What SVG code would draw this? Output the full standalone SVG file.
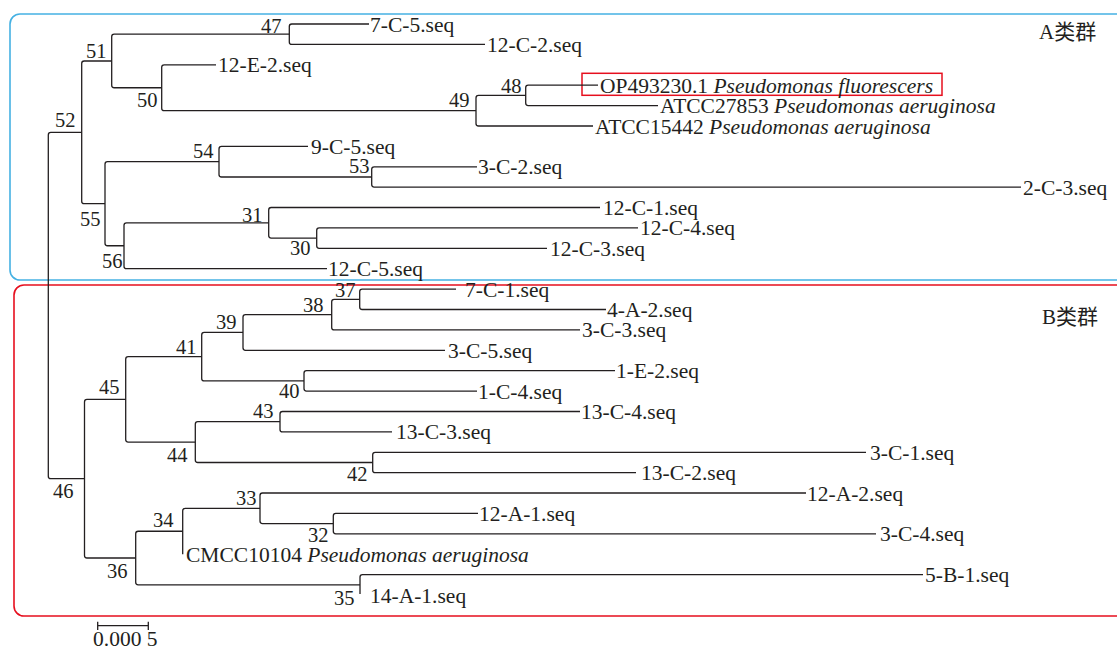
<svg xmlns="http://www.w3.org/2000/svg" width="1117" height="649" viewBox="0 0 1117 649">
<style>
.br{fill:none;stroke:#231f20;stroke-width:1.3;stroke-linejoin:round}
text{font-family:"Liberation Serif","Times New Roman",serif;font-size:21.5px;fill:#231f20}
.nl{font-size:20.5px}
.it{font-style:italic}
.cn{font-family:"Liberation Serif","Noto Sans CJK SC",serif;font-size:21px}
</style>
<rect x="0" y="0" width="1117" height="649" fill="#ffffff"/>
<g id="clusters">
<rect id="cluster-A" x="10" y="14" width="1130" height="266" rx="10" fill="none" stroke="#45b1e3" stroke-width="1.6"/>
<rect id="cluster-B" x="14" y="285" width="1130" height="331" rx="10" fill="none" stroke="#e60f1e" stroke-width="1.6"/>
<rect id="highlight" x="582" y="73.3" width="360" height="22" fill="none" stroke="#e60f1e" stroke-width="1.5"/>
</g>
<g id="connectors">
<path class="br" d="M81.7 132.4 H50.8 Q48.3 132.4 48.3 134.9 V476.2 Q48.3 478.7 50.8 478.7 H84.5"/>
<path class="br" d="M111.7 61 H84.2 Q81.7 61 81.7 63.5 V201.2 Q81.7 203.7 84.2 203.7 H105"/>
<path class="br" d="M289.3 34.2 H114.2 Q111.7 34.2 111.7 36.7 V85.25 Q111.7 87.75 114.2 87.75 H161.7"/>
<path class="br" d="M369 24 H291.8 Q289.3 24 289.3 26.5 V41.9 Q289.3 44.4 291.8 44.4 H485"/>
<path class="br" d="M216 64.8 H164.2 Q161.7 64.8 161.7 67.3 V108.2 Q161.7 110.7 164.2 110.7 H476"/>
<path class="br" d="M525.7 95.4 H478.5 Q476 95.4 476 97.9 V123.5 Q476 126 478.5 126 H593"/>
<path class="br" d="M598 85.2 H528.2 Q525.7 85.2 525.7 87.7 V103.1 Q525.7 105.6 528.2 105.6 H658"/>
<path class="br" d="M219 161.7 H107.5 Q105 161.7 105 164.2 V243.25 Q105 245.75 107.5 245.75 H124"/>
<path class="br" d="M308 146.4 H221.5 Q219 146.4 219 148.9 V174.5 Q219 177 221.5 177 H371.7"/>
<path class="br" d="M477 166.8 H374.2 Q371.7 166.8 371.7 169.3 V184.6 Q371.7 187.1 374.2 187.1 H1021"/>
<path class="br" d="M268.7 222.8 H126.5 Q124 222.8 124 225.3 V266.2 Q124 268.7 126.5 268.7 H327"/>
<path class="br" d="M600 207.5 H271.2 Q268.7 207.5 268.7 210 V235.6 Q268.7 238.1 271.2 238.1 H316.7"/>
<path class="br" d="M638 227.9 H319.2 Q316.7 227.9 316.7 230.4 V245.8 Q316.7 248.3 319.2 248.3 H547"/>
<path class="br" d="M125.7 399.4 H87 Q84.5 399.4 84.5 401.9 V555.5 Q84.5 558 87 558 H135.7"/>
<path class="br" d="M201.7 356.7 H128.2 Q125.7 356.7 125.7 359.2 V439.6 Q125.7 442.1 128.2 442.1 H195.3"/>
<path class="br" d="M243 332.45 H204.2 Q201.7 332.45 201.7 334.95 V378.4 Q201.7 380.9 204.2 380.9 H304"/>
<path class="br" d="M331.7 314.6 H245.5 Q243 314.6 243 317.1 V347.8 Q243 350.3 245.5 350.3 H445"/>
<path class="br" d="M359.7 299.3 H334.2 Q331.7 299.3 331.7 301.8 V327.4 Q331.7 329.9 334.2 329.9 H580"/>
<path class="br" d="M456 289.1 H362.2 Q359.7 289.1 359.7 291.6 V307 Q359.7 309.5 362.2 309.5 H606"/>
<path class="br" d="M615 370.7 H306.5 Q304 370.7 304 373.2 V388.6 Q304 391.1 306.5 391.1 H477"/>
<path class="br" d="M280 421.7 H197.8 Q195.3 421.7 195.3 424.2 V460 Q195.3 462.5 197.8 462.5 H372.7"/>
<path class="br" d="M580 411.5 H282.5 Q280 411.5 280 414 V429.4 Q280 431.9 282.5 431.9 H392"/>
<path class="br" d="M866 452.3 H375.2 Q372.7 452.3 372.7 454.8 V470.2 Q372.7 472.7 375.2 472.7 H636"/>
<path class="br" d="M182.7 531.25 H138.2 Q135.7 531.25 135.7 533.75 V582.3 Q135.7 584.8 138.2 584.8 H360"/>
<path class="br" d="M260 508.3 H185.2 Q182.7 508.3 182.7 510.8 V554.2"/>
<path class="br" d="M806 493 H262.5 Q260 493 260 495.5 V521.1 Q260 523.6 262.5 523.6 H333.3"/>
<path class="br" d="M478 513.4 H335.8 Q333.3 513.4 333.3 515.9 V531.3 Q333.3 533.8 335.8 533.8 H876"/>
<path class="br" d="M923 574.6 H362.5 Q360 574.6 360 577.1 V594"/>
</g>
<g id="leaves">
<g id="leaf-7-C-5"><text x="370" y="31.5">7-C-5.seq</text></g>
<g id="leaf-12-C-2"><text x="487" y="51.9">12-C-2.seq</text></g>
<g id="leaf-12-E-2"><text x="218" y="72.3">12-E-2.seq</text></g>
<g id="leaf-OP493230"><text x="600" y="92.7">OP493230.1 <tspan class="it">Pseudomonas fluorescers</tspan></text></g>
<g id="leaf-ATCC27853"><text x="660" y="113.1">ATCC27853 <tspan class="it">Pseudomonas aeruginosa</tspan></text></g>
<g id="leaf-ATCC15442"><text x="595" y="133.5">ATCC15442 <tspan class="it">Pseudomonas aeruginosa</tspan></text></g>
<g id="leaf-9-C-5"><text x="311" y="153.9">9-C-5.seq</text></g>
<g id="leaf-3-C-2"><text x="478" y="174.3">3-C-2.seq</text></g>
<g id="leaf-2-C-3"><text x="1023" y="194.6">2-C-3.seq</text></g>
<g id="leaf-12-C-1"><text x="603" y="215">12-C-1.seq</text></g>
<g id="leaf-12-C-4"><text x="640" y="235.4">12-C-4.seq</text></g>
<g id="leaf-12-C-3"><text x="550" y="255.8">12-C-3.seq</text></g>
<g id="leaf-12-C-5"><text x="328" y="276.2">12-C-5.seq</text></g>
<g id="leaf-7-C-1"><text x="465" y="296.6">7-C-1.seq</text></g>
<g id="leaf-4-A-2"><text x="607" y="317">4-A-2.seq</text></g>
<g id="leaf-3-C-3"><text x="582" y="337.4">3-C-3.seq</text></g>
<g id="leaf-3-C-5"><text x="448" y="357.8">3-C-5.seq</text></g>
<g id="leaf-1-E-2"><text x="616" y="378.2">1-E-2.seq</text></g>
<g id="leaf-1-C-4"><text x="478" y="398.6">1-C-4.seq</text></g>
<g id="leaf-13-C-4"><text x="581" y="419">13-C-4.seq</text></g>
<g id="leaf-13-C-3"><text x="396" y="439.4">13-C-3.seq</text></g>
<g id="leaf-3-C-1"><text x="870" y="459.8">3-C-1.seq</text></g>
<g id="leaf-13-C-2"><text x="641" y="480.2">13-C-2.seq</text></g>
<g id="leaf-12-A-2"><text x="807" y="500.5">12-A-2.seq</text></g>
<g id="leaf-12-A-1"><text x="479" y="520.9">12-A-1.seq</text></g>
<g id="leaf-3-C-4"><text x="880" y="541.3">3-C-4.seq</text></g>
<g id="leaf-CMCC10104"><text x="186" y="561.7">CMCC10104 <tspan class="it">Pseudomonas aeruginosa</tspan></text></g>
<g id="leaf-5-B-1"><text x="925" y="582.1">5-B-1.seq</text></g>
<g id="leaf-14-A-1"><text x="370" y="603">14-A-1.seq</text></g>
</g>
<g id="nodes">
<g id="node-52"><text class="nl" x="55" y="127">52</text></g>
<g id="node-51"><text class="nl" x="86" y="58">51</text></g>
<g id="node-47"><text class="nl" x="261" y="32.5">47</text></g>
<g id="node-50"><text class="nl" x="137" y="107">50</text></g>
<g id="node-49"><text class="nl" x="449" y="107">49</text></g>
<g id="node-48"><text class="nl" x="501" y="92.5">48</text></g>
<g id="node-54"><text class="nl" x="193" y="158">54</text></g>
<g id="node-53"><text class="nl" x="349" y="173">53</text></g>
<g id="node-55"><text class="nl" x="80" y="226">55</text></g>
<g id="node-56"><text class="nl" x="102" y="268">56</text></g>
<g id="node-31"><text class="nl" x="242" y="222">31</text></g>
<g id="node-30"><text class="nl" x="290" y="255">30</text></g>
<g id="node-46"><text class="nl" x="53" y="498">46</text></g>
<g id="node-45"><text class="nl" x="99" y="394">45</text></g>
<g id="node-41"><text class="nl" x="176" y="354">41</text></g>
<g id="node-39"><text class="nl" x="216" y="329">39</text></g>
<g id="node-38"><text class="nl" x="303" y="312">38</text></g>
<g id="node-37"><text class="nl" x="335" y="297">37</text></g>
<g id="node-40"><text class="nl" x="279" y="398">40</text></g>
<g id="node-43"><text class="nl" x="253" y="418">43</text></g>
<g id="node-44"><text class="nl" x="167" y="462">44</text></g>
<g id="node-42"><text class="nl" x="347" y="480.5">42</text></g>
<g id="node-34"><text class="nl" x="153" y="527">34</text></g>
<g id="node-33"><text class="nl" x="236" y="504.5">33</text></g>
<g id="node-32"><text class="nl" x="308" y="542">32</text></g>
<g id="node-36"><text class="nl" x="107" y="578">36</text></g>
<g id="node-35"><text class="nl" x="334" y="604.5">35</text></g>
</g>
<g id="cluster-labels">
<text class="cn" x="1039" y="38.5">A类群</text>
<text class="cn" x="1042" y="324">B类群</text>
</g>
<g id="scale-bar">
<path class="br" d="M97.7 625.7 H148.3 M97.7 621.7 V630 M148.3 621.7 V630"/>
<text x="93" y="645.5">0.000 5</text>
</g>
</svg>
